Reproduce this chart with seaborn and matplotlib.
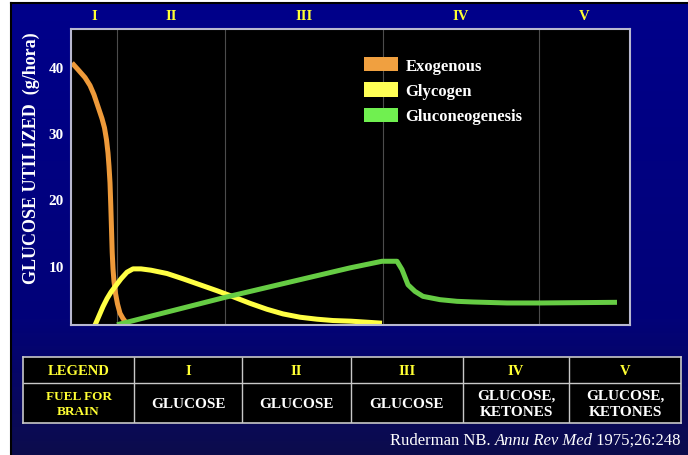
import numpy as np
import matplotlib
matplotlib.use("Agg")
import matplotlib.pyplot as plt
from matplotlib.patches import Patch, Rectangle
import seaborn as sns

# phases of starvation along the time axis (arbitrary units)
phase_edges = [0, 46, 154, 312, 468, 559]
phase_names = ["I", "II", "III", "IV", "V"]

# glucose utilized (g/hora)
exo_x = [1, 7, 14, 19, 23, 27, 31, 33.5, 35.5, 37, 38, 39, 39.8, 40.5, 41.2, 42, 43, 44.5, 46.5, 49, 52, 54]
exo_y = [40.6, 39.6, 38.4, 37.2, 35.8, 34.0, 32.2, 30.8, 29.0, 27.0, 25.0, 22.5, 19, 15.5, 12, 9.5, 7.6, 5.8, 4.2, 2.8, 2.0, 1.6]

gly_x = [24, 28, 32, 36, 40, 45, 50, 56, 62, 70, 80, 96, 112, 129, 146, 162, 179, 196, 212, 229, 246, 262, 280, 311]
gly_y = [1.0, 2.4, 3.8, 5.0, 6.0, 7.0, 8.0, 9.0, 9.5, 9.5, 9.3, 8.8, 8.0, 7.1, 6.2, 5.3, 4.3, 3.4, 2.7, 2.2, 1.9, 1.7, 1.6, 1.3]

gng_x = [46, 154, 279, 311, 326, 331, 337, 344, 352, 369, 386, 402, 436, 469, 546]
gng_y = [1.06, 5.2, 9.65, 10.65, 10.65, 9.4, 7.1, 6.1, 5.35, 4.85, 4.6, 4.5, 4.35, 4.35, 4.45]

series_names = ["Exogenous", "Glycogen", "Gluconeogenesis"]
y_ticks = [10, 20, 30, 40]

table_head = ["LEGEND", "I", "II", "III", "IV", "V"]
table_fuel = ["FUEL FOR\nBRAIN", "GLUCOSE", "GLUCOSE", "GLUCOSE",
              "GLUCOSE,\nKETONES", "GLUCOSE,\nKETONES"]

citation = ["Ruderman NB. ", "Annu Rev Med", " 1975;26:248"]

# ---- styling
sns.set_theme(style="ticks")
plt.rcParams["font.family"] = ["Liberation Serif", "DejaVu Serif"]
plt.rcParams["font.weight"] = "bold"

W, H = 688, 456
line_cols = ["#EE9A3A", "#FFFF44", "#66CC44"]
patch_cols = ["#F0A040", "#FFFF55", "#70F050"]
yellow = "#FFFF33"


def px(x0, y0, x1, y1):
    # pixel box -> figure fraction rect
    return [x0 / W, 1 - y1 / H, (x1 - x0) / W, (y1 - y0) / H]


fig = plt.figure(figsize=(W / 100, H / 100), dpi=100, facecolor="white")

# slide background: navy gradient with a black frame on the left/top
bg = fig.add_axes(px(11, 4, 688, 456))
t = np.linspace(0, 1, 200)
r = np.interp(t, [0, 0.7, 1], [0, 2, 12])
g = np.interp(t, [0, 0.7, 1], [0, 2, 12])
b = np.interp(t, [0, 0.7, 1], [138, 120, 76])
grad = np.stack([r, g, b], axis=1)[:, None, :] / 255
bg.imshow(grad, aspect="auto", extent=[0, 1, 0, 1])
bg.set_xticks([])
bg.set_yticks([])
for s in ["right", "bottom"]:
    bg.spines[s].set_visible(False)
for s in ["left", "top"]:
    bg.spines[s].set_color("black")
    bg.spines[s].set_linewidth(1.5)

# ---- main chart
ax = fig.add_axes(px(71, 29.5, 630, 325.5))
ax.set_facecolor("black")
for x in phase_edges[1:-1]:
    ax.axvline(x, color="#4c4c4c", lw=0.8, zorder=0)

for xs, ys, c in zip([exo_x, gly_x, gng_x], [exo_y, gly_y, gng_y], line_cols):
    sns.lineplot(x=xs, y=ys, ax=ax, color=c, linewidth=3.6, sort=False,
                 estimator=None, solid_capstyle="butt", solid_joinstyle="round")

ax.set_xlim(phase_edges[0], phase_edges[-1])
ax.set_ylim(1.1, 45.8)
ax.set_yticks(y_ticks)
ax.set_yticklabels([str(v) for v in y_ticks], color="white", fontsize=11, fontweight="bold")
centers = [(a + b) / 2 for a, b in zip(phase_edges[:-1], phase_edges[1:])]
ax.set_xticks(centers)
ax.set_xticklabels(phase_names, color=yellow, fontsize=10.5, fontweight="bold")
ax.tick_params(axis="x", top=True, labeltop=True, bottom=False, labelbottom=False, length=0, pad=5)
ax.tick_params(axis="y", length=0, pad=5)
for s in ax.spines.values():
    s.set_color("#B8B8D0")
    s.set_linewidth(1.5)

ax.set_ylabel("GLUCOSE UTILIZED  (g/hora)", color="white", fontsize=13, fontweight="bold")
ax.yaxis.set_label_coords(-0.056, 0.565)

handles = [Patch(facecolor=c, edgecolor="none", label=n) for c, n in zip(patch_cols, series_names)]
leg = ax.legend(handles=handles, loc="upper left", bbox_to_anchor=(364 / W, 1 - 58 / H),
                bbox_transform=fig.transFigure, frameon=False, handlelength=2.05,
                handleheight=0.95, labelspacing=0.5, handletextpad=0.45,
                borderpad=0, borderaxespad=0, prop={"size": 12, "weight": "bold"})
for txt in leg.get_texts():
    txt.set_color("white")

# ---- table under the chart
tab = fig.add_axes(px(23, 358, 681, 424))
col_edges = [23, 134, 242, 351, 463, 569, 681]
row_edges = [358, 384, 424]
tab.set_xlim(col_edges[0], col_edges[-1])
tab.set_ylim(row_edges[-1], row_edges[0])
tab.add_patch(Rectangle((col_edges[0], row_edges[0]), col_edges[-1] - col_edges[0],
                        row_edges[-1] - row_edges[0], color="black", zorder=0))
tab.vlines(col_edges[1:-1], row_edges[0], row_edges[-1], color="#C8C8C8", lw=1)
tab.hlines(row_edges[1], col_edges[0], col_edges[-1], color="#C8C8C8", lw=1)
tab.set_xticks([])
tab.set_yticks([])
for s in tab.spines.values():
    s.set_color("#C8C8C8")
    s.set_linewidth(1.2)

for i in range(len(table_head)):
    cx = (col_edges[i] + col_edges[i + 1]) / 2
    tab.text(cx, (row_edges[0] + row_edges[1]) / 2 + 0.5, table_head[i], color=yellow,
             fontsize=10.5, fontweight="bold", ha="center", va="center")
    tab.text(cx, (row_edges[1] + row_edges[2]) / 2 + 0.5, table_fuel[i],
             color=yellow if i == 0 else "white", fontsize=9.5 if i == 0 else 11,
             fontweight="bold", ha="center", va="center", linespacing=1.3)

# ---- citation, right aligned, middle part in italics
renderer = fig.canvas.get_renderer()
x_right = 681 / W
y_cit = 1 - 441 / H
styles = ["normal", "italic", "normal"]
for part, st in zip(citation[::-1], styles[::-1]):
    tx = fig.text(x_right, y_cit, part, color="white", fontsize=12, fontweight="normal",
                  fontstyle=st, ha="right", va="center")
    bb = tx.get_window_extent(renderer)
    x_right -= bb.width / W

fig.savefig("out.png", dpi=100, facecolor=fig.get_facecolor())
